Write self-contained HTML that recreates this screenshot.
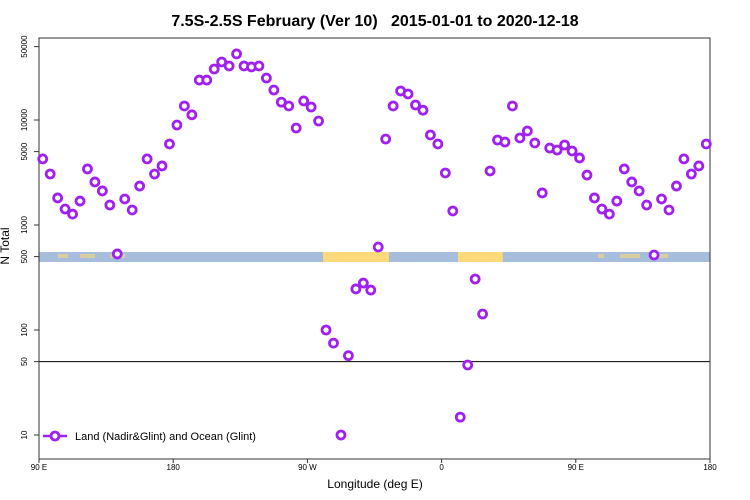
<!DOCTYPE html>
<html><head><meta charset="utf-8"><style>
body{margin:0;background:#fff;}
svg{display:block;font-family:"Liberation Sans",sans-serif;}
</style></head><body>
<svg id="chart" width="750" height="500" viewBox="0 0 750 500">
<rect width="750" height="500" fill="#fff"/>
<text x="375" y="26" text-anchor="middle" font-size="16" font-weight="bold" style="white-space:pre">7.5S-2.5S February (Ver 10)&#160;&#160;&#160;2015-01-01 to 2020-12-18</text>
<g id="band"></g>
<g id="axes"></g>
<g id="marks"></g>
<text x="375" y="488" text-anchor="middle" font-size="12">Longitude (deg E)</text>
<text transform="translate(9,246) rotate(-90)" text-anchor="middle" font-size="12">N Total</text>
<g>
<line x1="43" y1="436" x2="67" y2="436" stroke="#a020f0" stroke-width="2.5"/>
<circle cx="55" cy="436" r="4" fill="#fff" stroke="#a020f0" stroke-width="2.8"/>
<text x="75" y="440" font-size="11">Land (Nadir&amp;Glint) and Ocean (Glint)</text>
</g>
</svg>
<script>
const lonStart = 92.5, lonStep = 5;
const values = [4260,3060,1810,1420,1270,1690,3420,2570,2110,1550,530,1770,1390,2350,4260,3060,3650,5910,8960,13600,11200,24000,24000,30600,35700,32700,42600,32700,32000,32700,25100,19300,14800,13600,8390,15200,13300,9780,100,75,10,57,246,280,240,617,6590,13600,18900,17700,13900,12400,7200,5910,3130,1360,14.8,46.4,306,142,3270,6450,6170,13600,6740,7860,6040,2020,5410,5180,5780,5070,4350,2990,1810,1420,1270,1690,3420,2570,2110,1550,518,1770,1390,2350,4260,3060,3650,5910];
const yTicks = [10,50,100,500,1000,5000,10000,50000];
const xTickLons = [90,180,270,360,450,540];
const xTickLabels = ["90 E","180","90 W","0","90 E","180"];
const landSegs = [[280.5,324.7],[371,401]];

const L=39,R=710,T=38,B=459;
const X = lon => L + (lon-90)*(R-L)/450;
const Y = v => 435 - (Math.log10(v)-1)*105;
const NS="http://www.w3.org/2000/svg";
function mk(tag,attrs,parent){const e=document.createElementNS(NS,tag);for(const k in attrs)e.setAttribute(k,attrs[k]);parent.appendChild(e);return e;}
const band=document.getElementById('band'),axes=document.getElementById('axes'),marks=document.getElementById('marks');
mk('rect',{x:L,y:252,width:R-L,height:10,fill:'#a6bddb'},band);
landSegs.forEach(s=>{const r=mk('rect',{x:X(s[0]),y:252,width:X(s[1])-X(s[0]),height:10,fill:'#fdd97a'},band);

});
[[58,68],[80,95],[110,125],[598,604],[620,640],[655,668]].forEach(s=>{mk('rect',{x:s[0],y:254,width:s[1]-s[0],height:4,fill:'#fdd97a',opacity:0.6},band);});
const ref=mk('line',{x1:L,y1:Y(50),x2:R,y2:Y(50),stroke:'#000','stroke-width':1},axes);


const box=mk('rect',{x:L,y:T,width:R-L,height:B-T,fill:'none',stroke:'#333','stroke-width':1},axes);


yTicks.forEach(v=>{const y=Y(v);mk('line',{x1:L-5,y1:y,x2:L,y2:y,stroke:'#333'},axes);
const t=mk('text',{transform:`translate(${L-12},${y}) rotate(-90)`,'text-anchor':'middle','font-size':8},axes);t.textContent=v;

});
xTickLons.forEach((lon,i)=>{const x=X(lon);mk('line',{x1:x,y1:B,x2:x,y2:B+4,stroke:'#333'},axes);
const t=mk('text',{x:x,y:B+11,'text-anchor':'middle','font-size':8},axes);t.textContent=xTickLabels[i];

});
values.forEach((v,i)=>{const c=mk('circle',{cx:X(lonStart+i*lonStep),cy:Y(v),r:4,fill:'#fff',stroke:'#a020f0','stroke-width':2.8},marks);

});
</script>
</body></html>
